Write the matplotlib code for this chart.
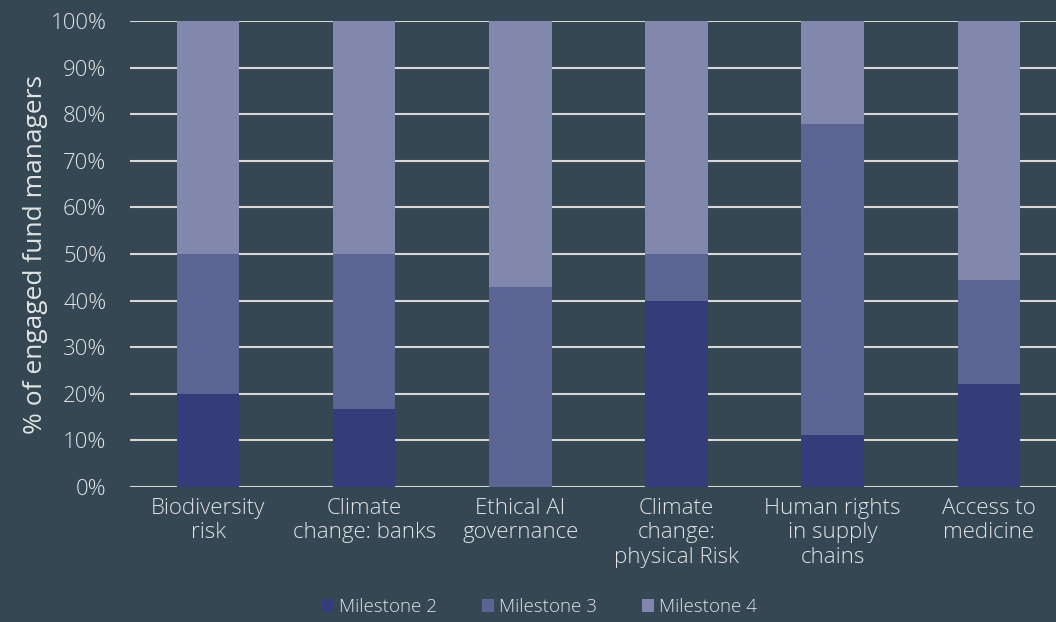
import numpy as np
import matplotlib.pyplot as plt

plt.rcParams["font.family"] = ["Open Sans", "DejaVu Sans"]
plt.rcParams["font.weight"] = "light"

categories = ["Biodiversity\nrisk", "Climate\nchange: banks", "Ethical AI\ngovernance",
              "Climate\nchange:\nphysical Risk", "Human rights\nin supply\nchains", "Access to\nmedicine"]
milestone2 = [20.0, 16.7, 0.0, 40.0, 11.1, 22.2]
milestone3 = [30.0, 33.3, 42.9, 10.0, 66.7, 22.2]
milestone4 = [50.0, 50.0, 57.1, 50.0, 22.2, 55.6]
series_names = ["Milestone 2", "Milestone 3", "Milestone 4"]
yticks = list(range(0, 101, 10))

bg = "#344752"
txt = "#e2e4e6"
colors = ["#343c7a", "#5c6494", "#8288ad"]

fig = plt.figure(figsize=(10.56, 6.22), dpi=100, facecolor=bg)
ax = fig.add_axes([130 / 1056, 1 - 487 / 622, 926 / 1056, (487 - 21) / 622])
ax.set_facecolor(bg)

x = np.arange(len(categories))
bottom = np.zeros(len(categories))
for vals, c, name in zip([milestone2, milestone3, milestone4], colors, series_names):
    ax.bar(x, vals, width=0.4, bottom=bottom, color=c, label=name, zorder=3)
    bottom += np.array(vals)

ax.set_xlim(-0.5, 5.43)
ax.set_ylim(0, 100)
ax.set_yticks(yticks)
ax.set_yticklabels([f"{t}%" for t in yticks])
ax.grid(axis="y", color="#d8d8d8", linewidth=1.5, zorder=0)
ax.set_axisbelow(True)
for s in ax.spines.values():
    s.set_visible(False)
ax.tick_params(axis="y", length=0, pad=17, labelsize=16, labelcolor=txt)
ax.tick_params(axis="x", length=0, pad=8, labelsize=16, labelcolor=txt)
ax.set_xticks(x)
ax.set_xticklabels(categories, linespacing=1.2)
ax.set_ylabel("% of engaged fund managers", fontsize=19, color=txt, labelpad=2)

leg = fig.legend(loc="lower center", bbox_to_anchor=(0.511, -0.018), ncol=3, frameon=False,
                 fontsize=13.5, handlelength=0.65, handleheight=0.65, handletextpad=0.25,
                 columnspacing=2.4, labelcolor=txt)

fig.savefig("out.png", dpi=100, facecolor=bg)
